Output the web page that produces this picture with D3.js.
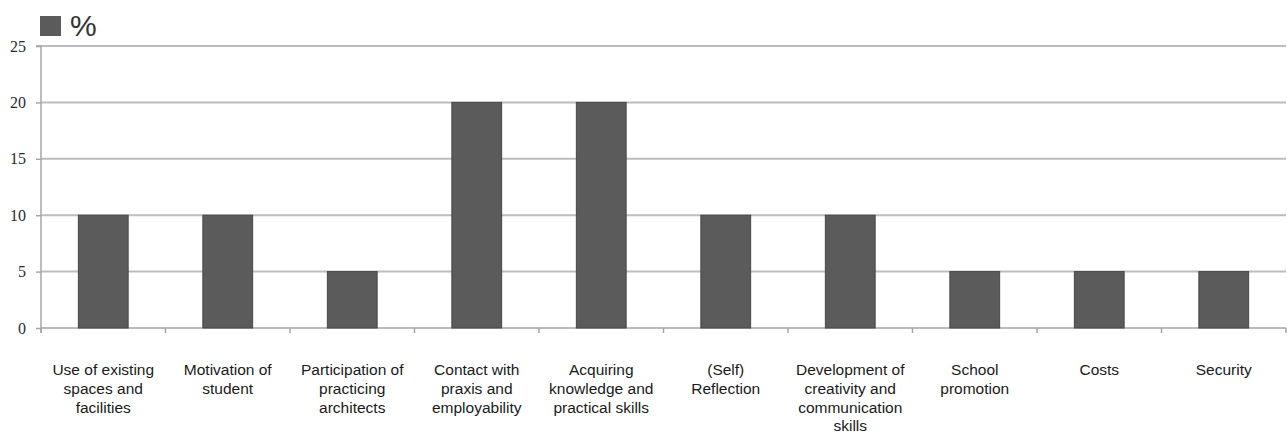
<!DOCTYPE html>
<html>
<head>
<meta charset="utf-8">
<script src="https://cdn.jsdelivr.net/npm/d3@7"></script>
<style>
  body { margin: 0; background: #fff; }
</style>
</head>
<body>
<svg id="chart"></svg>
<script>
const categories = [
  ["Use of existing", "spaces and", "facilities"],
  ["Motivation of", "student"],
  ["Participation of", "practicing", "architects"],
  ["Contact with", "praxis and", "employability"],
  ["Acquiring", "knowledge and", "practical skills"],
  ["(Self)", "Reflection"],
  ["Development of", "creativity and", "communication", "skills"],
  ["School", "promotion"],
  ["Costs"],
  ["Security"]
];
const values = [10, 10, 5, 20, 20, 10, 10, 5, 5, 5];
const yTicks = [0, 5, 10, 15, 20, 25];
const seriesName = "%";

const width = 1287, height = 434;
const margin = { top: 46, right: 1, bottom: 106, left: 41 };

const svg = d3.select("#chart")
  .attr("width", width)
  .attr("height", height);

const keys = categories.map(d => d.join(" "));

const xScale = d3.scaleBand()
  .domain(keys)
  .range([margin.left, width - margin.right])
  .paddingInner(0.6)
  .paddingOuter(0.3);

const yScale = d3.scaleLinear()
  .domain([0, 25])
  .range([height - margin.bottom, margin.top]);

// horizontal gridlines
svg.append("g")
  .selectAll("line")
  .data(yTicks.filter(d => d > 0))
  .join("line")
  .attr("x1", margin.left)
  .attr("x2", width - margin.right)
  .attr("y1", d => yScale(d))
  .attr("y2", d => yScale(d))
  .attr("stroke", "#bdbdbd")
  .attr("stroke-width", 2);

// y axis
const yAxis = d3.axisLeft(yScale).tickValues(yTicks).tickSize(5).tickPadding(10);
const yAxisGroup = svg.append("g")
  .attr("transform", `translate(${margin.left},0)`)
  .call(yAxis);
yAxisGroup.select(".domain").attr("stroke", "#a6a6a6").attr("stroke-width", 1.5)
  .attr("d", `M-5,${yScale(25)}H0V${yScale(0) + 5}`);
yAxisGroup.selectAll(".tick line").attr("stroke", "#a6a6a6").attr("stroke-width", 1.5);
yAxisGroup.selectAll("text")
  .attr("font-family", "'Liberation Serif', 'Times New Roman', serif")
  .attr("font-size", 16)
  .attr("fill", "#2b2b2b");

// x axis: boundary ticks between categories
const step = xScale.step();
const boundaries = d3.range(keys.length + 1).map(i => margin.left + i * step);
const base = yScale(0);
svg.append("line")
  .attr("x1", margin.left).attr("x2", width - margin.right)
  .attr("y1", base).attr("y2", base)
  .attr("stroke", "#a6a6a6").attr("stroke-width", 1.5);
svg.append("g")
  .selectAll("line")
  .data(boundaries)
  .join("line")
  .attr("x1", d => d).attr("x2", d => d)
  .attr("y1", base).attr("y2", base + 5)
  .attr("stroke", "#a6a6a6").attr("stroke-width", 1.5);

// bars
svg.append("g")
  .selectAll("rect")
  .data(values)
  .join("rect")
  .attr("x", (d, i) => xScale(keys[i]))
  .attr("y", d => yScale(d))
  .attr("width", xScale.bandwidth())
  .attr("height", d => base - yScale(d))
  .attr("fill", "#5b5b5b")
  .attr("stroke", "#474747")
  .attr("stroke-width", 1);

// category labels
const labels = svg.append("g")
  .attr("font-family", "'Liberation Sans', Arial, sans-serif")
  .attr("font-size", 15.5)
  .attr("fill", "#1a1a1a")
  .attr("text-anchor", "middle");
labels.selectAll("text")
  .data(categories)
  .join("text")
  .attr("x", (d, i) => xScale(keys[i]) + xScale.bandwidth() / 2)
  .attr("y", 375)
  .selectAll("tspan")
  .data(d => d)
  .join("tspan")
  .attr("x", function () { return this.parentNode.getAttribute("x"); })
  .attr("dy", (d, i) => i === 0 ? 0 : 18.8)
  .text(d => d);

// legend
const legend = svg.append("g");
legend.append("rect")
  .attr("x", 40).attr("y", 16)
  .attr("width", 21).attr("height", 20)
  .attr("fill", "#5b5b5b");
legend.append("text")
  .attr("x", 70).attr("y", 36)
  .attr("font-family", "'Liberation Sans', Arial, sans-serif")
  .attr("font-size", 30)
  .attr("fill", "#333")
  .text(seriesName);
</script>
</body>
</html>
